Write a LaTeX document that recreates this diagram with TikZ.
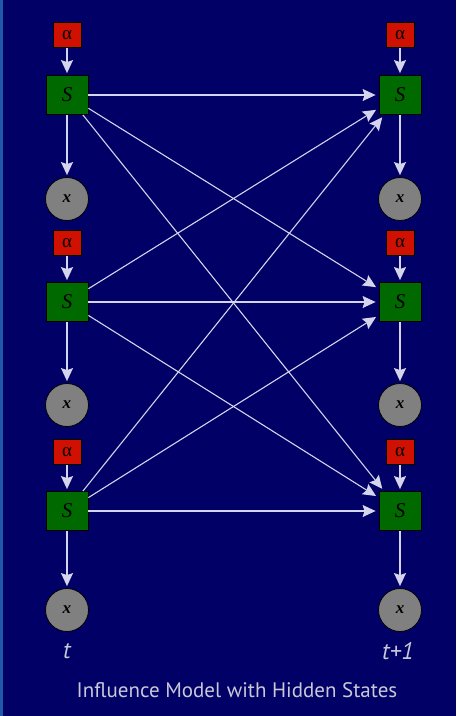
\documentclass[tikz,border=0pt]{standalone}
\usepackage{fontspec}
\newfontfamily\ptsans{PT Sans}
\newfontfamily\serifit{Liberation Serif}
\usetikzlibrary{arrows.meta}
\definecolor{bg}{HTML}{000066}
\definecolor{strip}{HTML}{1E5AA8}
\definecolor{redbox}{HTML}{D01000}
\definecolor{greenbox}{HTML}{006A00}
\definecolor{graynode}{HTML}{808080}
\definecolor{arrowc}{HTML}{D4D4EC}
\definecolor{labelc}{HTML}{C8C8D8}
\begin{document}
\begin{tikzpicture}[x=1pt,y=-1pt,
  alphabox/.style={rectangle,draw=black,line width=0.8pt,fill=redbox,minimum width=28pt,minimum height=25pt,inner sep=0pt,font=\serifit\fontsize{19}{19}\selectfont},
  statebox/.style={rectangle,draw=black,line width=0.8pt,fill=greenbox,minimum width=42pt,minimum height=39pt,inner sep=0pt,font=\serifit\itshape\fontsize{21}{21}\selectfont},
  obsnode/.style={circle,draw=black,line width=0.8pt,fill=graynode,minimum size=43pt,inner sep=0pt,font=\serifit\itshape\bfseries\fontsize{17}{17}\selectfont},
  vert/.style={draw=arrowc,line width=1.5pt,shorten >=2pt,-{Stealth[inset=2pt,length=13pt,width=12pt]}},
  cross/.style={draw=arrowc,line width=1.1pt,shorten >=3pt,-{Stealth[inset=2pt,length=13pt,width=12pt]}},
  timelabel/.style={text=labelc,font=\ptsans\itshape\fontsize{24}{24}\selectfont},
]
\useasboundingbox (0,0) rectangle (456,716);
\fill[bg] (0,0) rectangle (456,716);
\fill[strip] (0,0) rectangle (3,716);

\foreach \i/\ya/\ys/\yx in {1/35/95/199, 2/243/302/405, 3/452/511/610}{
  \node[alphabox] (aL\i) at (67,\ya) {α};
  \node[statebox] (sL\i) at (67,\ys) {S};
  \node[obsnode] (xL\i) at (67,\yx) {x};
  \node[alphabox] (aR\i) at (400,\ya) {α};
  \node[statebox] (sR\i) at (400,\ys) {S};
  \node[obsnode] (xR\i) at (400,\yx) {x};
  \draw[vert] (aL\i) -- (sL\i);
  \draw[vert] (sL\i) -- (xL\i);
  \draw[vert] (aR\i) -- (sR\i);
  \draw[vert] (sR\i) -- (xR\i);
}
\foreach \i in {1,2,3}{
  \foreach \j in {1,2,3}{
    \draw[cross] (sL\i) -- (sR\j);
  }
}

\node[timelabel] (tL) at (67,651) {t};
\node[timelabel] (tR) at (398,651) {t+1};
\node[text=labelc,font=\ptsans\fontsize{21}{21}\selectfont] (title) at (237,690) {Influence Model with Hidden States};
\end{tikzpicture}
\end{document}
